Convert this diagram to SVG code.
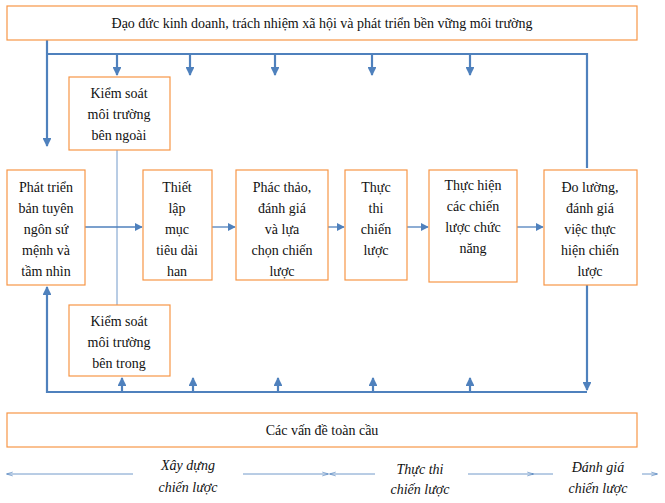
<svg xmlns="http://www.w3.org/2000/svg" width="665" height="503" viewBox="0 0 665 503" font-family="'Liberation Serif', 'Times New Roman', 'DejaVu Serif', serif" font-size="14">
<style>
.b{fill:#fff;stroke:#f79646;stroke-width:1.2}
text{fill:#111;text-anchor:middle}
.i{font-style:italic}
.t{stroke:#4f81bd;stroke-width:2.2;fill:none}
.n{stroke:#4f81bd;stroke-width:1.3;fill:none}
.s{stroke:#4f81bd;stroke-width:0.8;fill:none}
</style>
<defs>
<marker id="a" viewBox="0 0 10 10" refX="9" refY="5" markerWidth="4" markerHeight="4" orient="auto"><path d="M0,0L10,5L0,10z" fill="#4f81bd"/></marker>
<marker id="m" viewBox="0 0 10 10" refX="9" refY="5" markerWidth="6" markerHeight="6" orient="auto"><path d="M0,0L10,5L0,10z" fill="#4f81bd"/></marker>
<marker id="o" viewBox="0 0 10 10" refX="9" refY="5" markerWidth="8" markerHeight="8" orient="auto"><path d="M0,2L10,5L0,8" fill="none" stroke="#4f81bd" stroke-width="1"/></marker>
</defs>
<g id="connectors">
<path class="t" d="M47,40V146" marker-end="url(#a)"/>
<path class="t" d="M47,54H587V168"/>
<path class="t" d="M117,54V75" marker-end="url(#a)"/>
<path class="t" d="M190,54V75" marker-end="url(#a)"/>
<path class="t" d="M275,54V75" marker-end="url(#a)"/>
<path class="t" d="M372,54V75" marker-end="url(#a)"/>
<path class="t" d="M470,54V75" marker-end="url(#a)"/>
<path class="t" d="M587,285V390" marker-end="url(#a)"/>
<path class="t" d="M587,392H47V287" marker-end="url(#a)"/>
<path class="t" d="M122,392V378" marker-end="url(#a)"/>
<path class="t" d="M193,392V378" marker-end="url(#a)"/>
<path class="t" d="M278,392V378" marker-end="url(#a)"/>
<path class="t" d="M373,392V378" marker-end="url(#a)"/>
<path class="t" d="M470,392V378" marker-end="url(#a)"/>
<path class="s" d="M117,150V305"/>
<path class="n" d="M85,227H142" marker-end="url(#m)"/>
<path class="n" d="M212,227H235" marker-end="url(#m)"/>
<path class="n" d="M328,227H344" marker-end="url(#m)"/>
<path class="n" d="M407,227H428" marker-end="url(#m)"/>
<path class="n" d="M517,227H543" marker-end="url(#m)"/>
<path class="s" d="M133,474H7" marker-end="url(#o)"/>
<path class="s" d="M243,474H328" marker-end="url(#o)"/>
<path class="s" d="M375,474H330" marker-end="url(#o)"/>
<path class="s" d="M468,474H533" marker-end="url(#o)"/>
<path class="s" d="M532,474H553"/>
<path class="s" d="M642,474H657" marker-end="url(#o)"/>
</g>
<g id="top"><rect class="b" x="7" y="6" width="630" height="34"/><text x="322" y="28">Đạo đức kinh doanh, trách nhiệm xã hội và phát triển bền vững môi trường</text></g>
<g id="bottom"><rect class="b" x="7" y="413" width="630" height="34"/><text x="322" y="435">Các vấn đề toàn cầu</text></g>
<g id="ext"><rect class="b" x="69" y="77" width="101" height="73"/><text x="119" y="98">Kiểm soát</text><text x="119" y="119">môi trường</text><text x="119" y="140">bên ngoài</text></g>
<g id="int"><rect class="b" x="69" y="305" width="101" height="71"/><text x="119" y="326">Kiểm soát</text><text x="119" y="347">môi trường</text><text x="119" y="368">bên trong</text></g>
<g id="n1"><rect class="b" x="7" y="170" width="78" height="115"/><text x="46" y="192">Phát triển</text><text x="46" y="213">bản tuyên</text><text x="46" y="234">ngôn sứ</text><text x="46" y="255">mệnh và</text><text x="46" y="276">tầm nhìn</text></g>
<g id="n2"><rect class="b" x="143" y="170" width="69" height="110"/><text x="177" y="192">Thiết</text><text x="177" y="213">lập</text><text x="177" y="234">mục</text><text x="177" y="255">tiêu dài</text><text x="177" y="276">han</text></g>
<g id="n3"><rect class="b" x="236" y="170" width="92" height="110"/><text x="282" y="192">Phác thảo,</text><text x="282" y="213">đánh giá</text><text x="282" y="234">và lựa</text><text x="282" y="255">chọn chiến</text><text x="282" y="276">lược</text></g>
<g id="n4"><rect class="b" x="345" y="170" width="62" height="110"/><text x="376" y="192">Thực</text><text x="376" y="213">thi</text><text x="376" y="234">chiến</text><text x="376" y="255">lược</text></g>
<g id="n5"><rect class="b" x="429" y="170" width="88" height="112"/><text x="473" y="190">Thực hiện</text><text x="473" y="211">các chiến</text><text x="473" y="232">lược chức</text><text x="473" y="253">năng</text></g>
<g id="n6"><rect class="b" x="544" y="170" width="93" height="115"/><text x="590" y="192">Đo lường,</text><text x="590" y="213">đánh giá</text><text x="590" y="234">việc thực</text><text x="590" y="255">hiện chiến</text><text x="590" y="276">lược</text></g>
<g id="labels">
<text class="i" x="188" y="470">Xây dựng</text><text class="i" x="188" y="492">chiến lược</text>
<text class="i" x="420" y="474">Thực thi</text><text class="i" x="420" y="494">chiến lược</text>
<text class="i" x="598" y="472">Đánh giá</text><text class="i" x="598" y="493">chiến lược</text>
</g>
</svg>
